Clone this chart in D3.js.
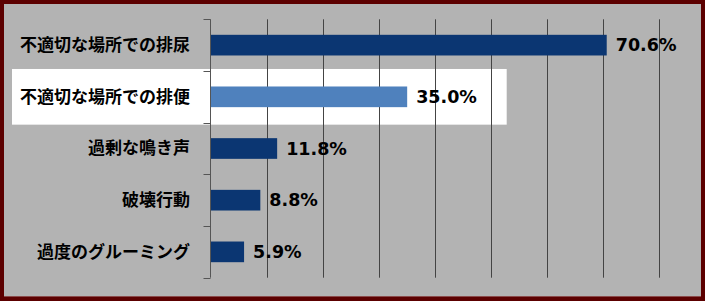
<!DOCTYPE html>
<html lang="ja">
<head>
  <meta charset="utf-8">
  <title>問題行動</title>
  <script src="https://d3js.org/d3.v7.min.js"></script>
  <style>
    html, body { margin: 0; padding: 0; background: #5c0000; }
    svg { display: block; }
    .cat { font: bold 17px "Noto Sans CJK JP", sans-serif; fill: #000; }
    .val { font: bold 17.5px "DejaVu Sans", Verdana, sans-serif; fill: #000; }
  </style>
</head>
<body>
  <div id="chart"></div>
  <script>
    "use strict"

    // データ
    var categories = ["不適切な場所での排尿", "不適切な場所での排便", "過剰な鳴き声", "破壊行動", "過度のグルーミング"];
    var values = [70.6, 35.0, 11.8, 8.8, 5.9];
    var highlighted = "不適切な場所での排便";

    var W = 705, H = 301;

    var svg = d3.select('#chart').append('svg')
      .attr('width', W)
      .attr('height', H);

    // 枠と背景
    svg.append('rect').attr('width', W).attr('height', H).attr('fill', '#5c0000');
    svg.append('rect')
      .attr('x', 4).attr('y', 4)
      .attr('width', 697).attr('height', 292)
      .attr('fill', '#b3b3b3');
    svg.append('line')
      .attr('x1', 4).attr('x2', 701).attr('y1', 296.5).attr('y2', 296.5)
      .attr('stroke', '#8a4a4a');

    var x = d3.scaleLinear()
      .domain([0, 80])
      .range([211, 659.4]);

    var y = d3.scaleBand()
      .domain(categories)
      .range([19.3, 277.7])
      .paddingInner(0.6)
      .paddingOuter(0.3);

    var step = y.step();
    var top0 = y.range()[0];

    // 強調行の白い帯
    var hiY = y(highlighted) - step * 0.3;
    svg.append('rect')
      .attr('x', 12)
      .attr('y', hiY - 2)
      .attr('width', 506.7 - 12)
      .attr('height', step + 4)
      .attr('fill', '#ffffff');

    // グリッド線
    svg.selectAll('line.grid')
      .data(x.ticks(8).filter(t => t > 0))
      .enter().append('line')
        .attr('class', 'grid')
        .attr('x1', d => Math.round(x(d)) + 0.5)
        .attr('x2', d => Math.round(x(d)) + 0.5)
        .attr('y1', top0)
        .attr('y2', y.range()[1])
        .attr('stroke', '#444')
        .attr('stroke-width', 1);

    // 縦軸
    var x0 = Math.round(x(0)) - 0.5;
    svg.append('line')
      .attr('x1', x0).attr('x2', x0)
      .attr('y1', top0).attr('y2', y.range()[1])
      .attr('stroke', '#555');
    svg.selectAll('line.tick')
      .data(d3.range(categories.length + 1))
      .enter().append('line')
        .attr('class', 'tick')
        .attr('x1', x0 - 7).attr('x2', x0)
        .attr('y1', i => Math.round(top0 + i * step) + 0.5)
        .attr('y2', i => Math.round(top0 + i * step) + 0.5)
        .attr('stroke', '#555');

    // 棒
    svg.selectAll('rect.bar')
      .data(categories)
      .enter().append('rect')
        .attr('class', 'bar')
        .attr('x', x(0))
        .attr('y', d => y(d))
        .attr('width', (d, i) => x(values[i]) - x(0))
        .attr('height', y.bandwidth())
        .attr('fill', d => d === highlighted ? '#4f81bd' : '#0b3672');

    // カテゴリ名
    svg.selectAll('text.cat')
      .data(categories)
      .enter().append('text')
        .attr('class', 'cat')
        .attr('x', 190)
        .attr('y', d => y(d) + y.bandwidth() / 2)
        .attr('dy', '0.35em')
        .attr('text-anchor', 'end')
        .text(d => d);

    // 値ラベル
    svg.selectAll('text.val')
      .data(categories)
      .enter().append('text')
        .attr('class', 'val')
        .attr('x', (d, i) => x(values[i]) + 9)
        .attr('y', d => y(d) + y.bandwidth() / 2)
        .attr('dy', '0.36em')
        .text((d, i) => values[i].toFixed(1) + '%');
  </script>
</body>
</html>
